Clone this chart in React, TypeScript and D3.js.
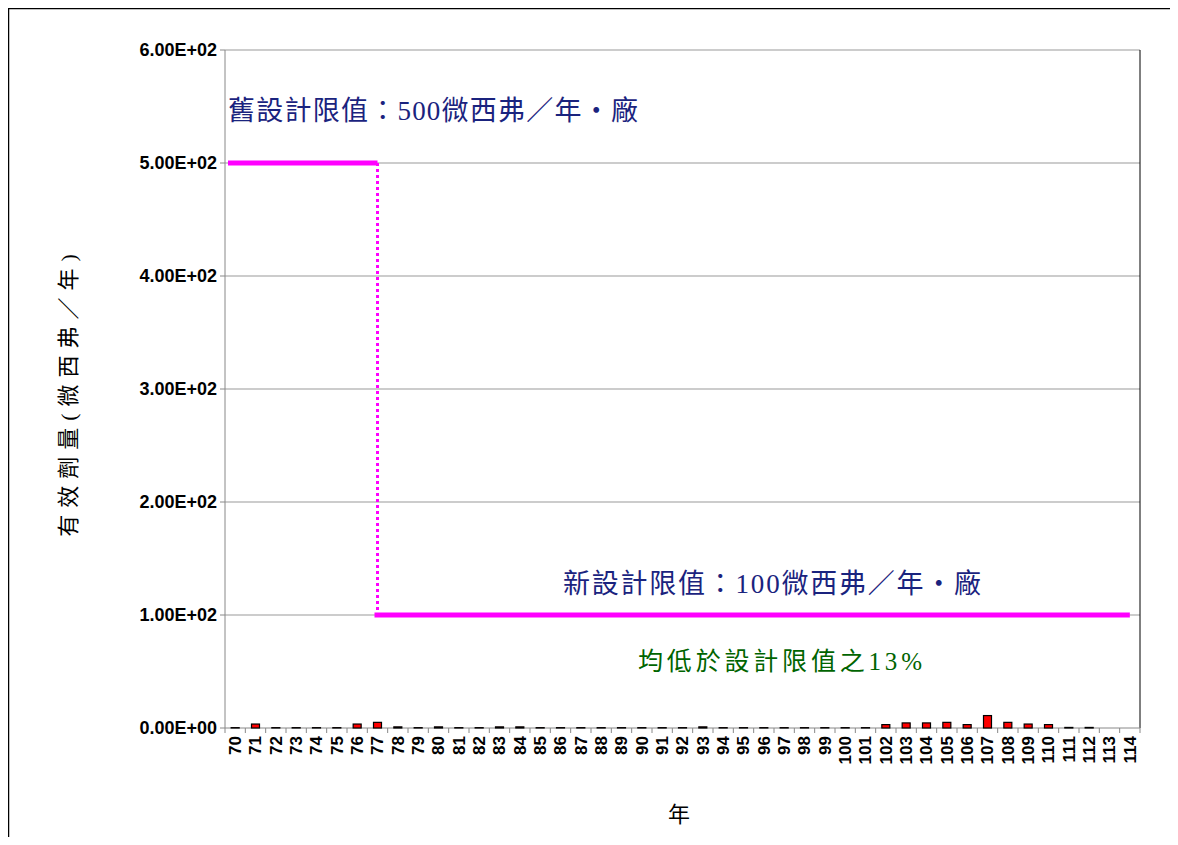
import React from "react";
import * as d3 from "d3";

const years = d3.range(70, 115).map(String);
const doses = [
  0.3, 3.5, 0.3, 0.3, 0.3, 0.3, 3.5, 5, 1, 0.3, 1, 0.3, 0.3, 1, 1, 0.3, 0.3, 0.3, 0.3, 0.3, 0.3, 0.3, 0.3,
  1, 0.3, 0.3, 0.3, 0.3, 0.3, 0.3, 0.3, 0.3, 3, 4.5, 4.5, 5, 3, 11, 5, 3.5, 3, 0.5, 0.5, 0, 0,
];
const yTicks = [0, 100, 200, 300, 400, 500, 600];
const oldLimit = 500;
const newLimit = 100;
const changeYear = "77";

const fmt = (v: number) => (v === 0 ? "0.00E+00" : `${(v / 100).toFixed(2)}E+02`);

const App = () => {
  const W = 1178;
  const H = 845;
  const m = { left: 225, right: 38, top: 50, bottom: 117 };
  const x = d3.scaleBand().domain(years).range([m.left, W - m.right]).paddingInner(0);
  const y = d3.scaleLinear().domain([0, 600]).range([H - m.bottom, m.top]);
  const bw = x.bandwidth();
  const xc = (d: string) => x(d)! + bw / 2;
  const font = "Arial, 'Liberation Sans', sans-serif";
  const cjk = "'Liberation Serif', 'Noto Sans CJK TC', serif";
  const y0 = y(0);

  return (
    <svg width={W} height={H} style={{ display: "block", margin: "-8px" }}>
      <rect x={0} y={0} width={W} height={H} fill="#fff" />
      <rect x={8.5} y={8.5} width={1167} height={H} fill="none" stroke="#000" strokeWidth={1.5} />
      {yTicks.map((t) => (
        <g key={t}>
          {t > 0 && <line x1={m.left} x2={W - m.right} y1={y(t)} y2={y(t)} stroke="#999" />}
          <line x1={m.left - 5} x2={m.left} y1={y(t)} y2={y(t)} stroke="#888" />
          <text x={m.left - 8} y={y(t)} dy="0.35em" textAnchor="end" fontFamily={font} fontWeight="bold" fontSize={18}>
            {fmt(t)}
          </text>
        </g>
      ))}
      <line x1={m.left} x2={m.left} y1={m.top} y2={y0} stroke="#888" />
      <line x1={W - m.right} x2={W - m.right} y1={m.top} y2={y0} stroke="#000" />
      <line x1={m.left} x2={W - m.right} y1={y0} y2={y0} stroke="#888" />
      {years.map((d, i) => (
        <g key={d}>
          <line x1={x(d)!} x2={x(d)!} y1={y0} y2={y0 + 5} stroke="#888" />
          {i === years.length - 1 && <line x1={x(d)! + bw} x2={x(d)! + bw} y1={y0} y2={y0 + 5} stroke="#888" />}
          <text
            transform={`translate(${xc(d)},${y0 + 8}) rotate(-90)`}
            dy="0.35em"
            textAnchor="end"
            fontFamily={font}
            fontWeight="bold"
            fontSize={17}
          >
            {d}
          </text>
        </g>
      ))}
      {doses.map((v, i) =>
        v > 0 ? (
          <rect
            key={i}
            x={xc(years[i]) - 4}
            y={y(v)}
            width={8}
            height={y0 - y(v)}
            fill="#ff0000"
            stroke="#000"
            strokeWidth={1.2}
          />
        ) : null
      )}
      <line x1={m.left + 3} x2={xc(changeYear)} y1={y(oldLimit)} y2={y(oldLimit)} stroke="#ff00ff" strokeWidth={5} />
      <line x1={xc(changeYear)} x2={xc(changeYear)} y1={y(oldLimit)} y2={y(newLimit)} stroke="#ff00ff" strokeWidth={3} strokeDasharray="3,3" />
      <line x1={xc(changeYear) - 3} x2={xc("114")} y1={y(newLimit)} y2={y(newLimit)} stroke="#ff00ff" strokeWidth={5} />
      <text x={228} y={120} fontFamily={cjk} fontSize={27} textLength={410} fill="#1a237e">
        舊設計限值：500微西弗／年‧廠
      </text>
      <text x={563} y={593} fontFamily={cjk} fontSize={27} textLength={418} fill="#1a237e">
        新設計限值：100微西弗／年‧廠
      </text>
      <text x={638} y={670} fontFamily={cjk} fontSize={25} textLength={284} fill="#006400">
        均低於設計限值之13%
      </text>
      <text transform="translate(68,392) rotate(-90)" textAnchor="middle" dy="0.35em" fontFamily={cjk} fontSize={22} letterSpacing={7}>
        有效劑量(微西弗／年)
      </text>
      <text x={679} y={822} textAnchor="middle" fontFamily={cjk} fontSize={22}>
        年
      </text>
    </svg>
  );
};

export default App;
